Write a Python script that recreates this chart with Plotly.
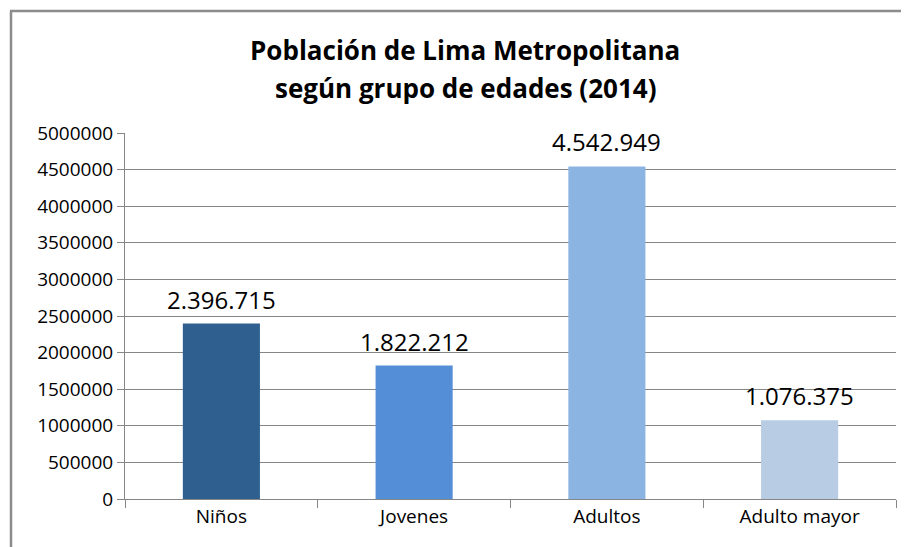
import plotly.graph_objects as go

categories = ["Niños", "Jovenes", "Adultos", "Adulto mayor"]
values = [2396715, 1822212, 4542949, 1076375]
colors = ["#2E5F8F", "#548ED6", "#8CB4E2", "#B8CDE4"]
y_ticks = [0, 500000, 1000000, 1500000, 2000000, 2500000, 3000000, 3500000, 4000000, 4500000, 5000000]
title_lines = ["Población de Lima Metropolitana", "según grupo de edades (2014)"]

def fmt(v):
    return f"{v:,}".replace(",", ".")

FONT = "Open Sans"
GRID = "#868686"
OFF = 8  # page body margin

W, H = 909 - OFF, 547 - OFF
PL, PR, PT, PB = 125 - OFF, 896 - OFF, 133 - OFF, 499 - OFF
PW, PH = PR - PL, PB - PT

def px(x):
    return (x - OFF - PL) / PW

def py(y):
    return (PB - (y - OFF)) / PH

fig = go.Figure()
fig.add_trace(go.Bar(
    x=categories, y=values, marker=dict(color=colors, line=dict(width=0)),
    width=0.4, hoverinfo="skip",
))

for c, v in zip(categories, values):
    fig.add_annotation(x=c, y=v, text=fmt(v), showarrow=False, yanchor="bottom",
                       yshift=6, font=dict(family=FONT, size=24, color="#000000"))

for line, yc in zip(title_lines, [50, 88]):
    fig.add_annotation(xref="paper", yref="paper",
                       x=px(465), y=py(yc),
                       xanchor="center", yanchor="middle", showarrow=False,
                       text=f"<b>{line}</b>",
                       font=dict(family=FONT, size=26, color="#000000"))

fig.update_layout(
    width=W, height=H,
    margin=dict(l=PL, r=W - PR, t=PT, b=H - PB),
    paper_bgcolor="white", plot_bgcolor="white",
    showlegend=False,
    xaxis=dict(
        type="category", tickson="boundaries", ticks="outside", ticklen=8,
        tickcolor=GRID, showline=True, linecolor=GRID, linewidth=1,
        showgrid=False, tickfont=dict(family=FONT, size=19, color="#000000"),
        range=[-0.5, 3.5],
    ),
    yaxis=dict(
        range=[0, 5000000], tickvals=y_ticks, ticktext=[str(t) for t in y_ticks],
        ticks="outside", ticklen=7, tickcolor=GRID, showline=True, linecolor=GRID,
        linewidth=1, showgrid=True, gridcolor=GRID, gridwidth=1, zeroline=False,
        tickfont=dict(family=FONT, size=19, color="#000000"),
    ),
    shapes=[
        dict(type="line", xref="paper", yref="paper",
             x0=px(11), x1=px(11), y0=py(547), y1=py(11),
             line=dict(color="#8c8c8c", width=2.5), layer="above"),
        dict(type="line", xref="paper", yref="paper",
             x0=px(10), x1=px(909), y0=py(11), y1=py(11),
             line=dict(color="#8c8c8c", width=2.5), layer="above"),
    ],
)

fig.write_html("out.html", config={"displayModeBar": False})
